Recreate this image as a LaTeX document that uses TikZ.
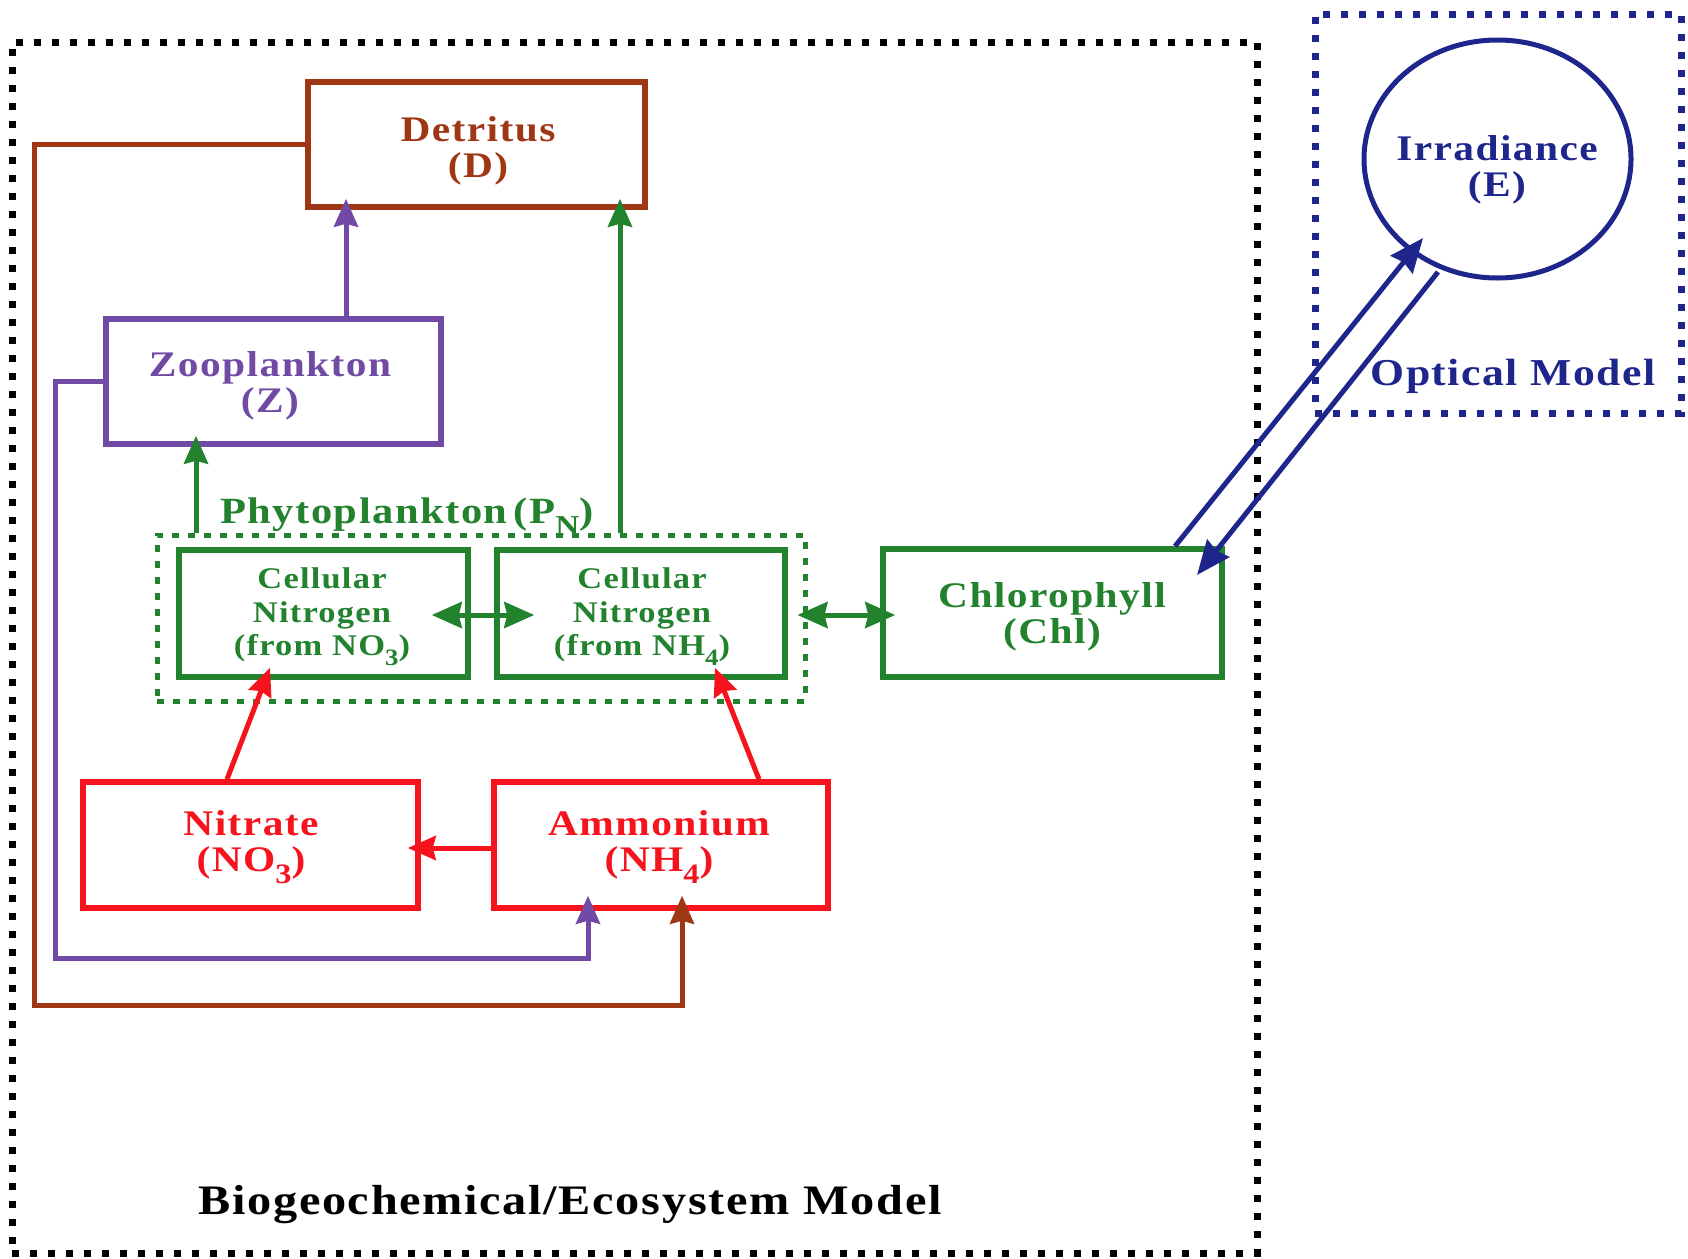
\documentclass[tikz,border=0pt]{standalone}
\usepackage{fontspec}
\setmainfont{Liberation Serif}[LetterSpace=4,FakeStretch=1.15]
\usepackage{graphicx}
\usetikzlibrary{arrows.meta,shapes.geometric}
\definecolor{cbrown}{RGB}{160,55,20}
\definecolor{cpurple}{RGB}{112,74,164}
\definecolor{cgreen}{RGB}{34,130,46}
\definecolor{cred}{RGB}{245,20,30}
\definecolor{cblue}{RGB}{30,38,140}
\newcommand\lsub[1]{\raisebox{-0.33em}{\scalebox{0.78}{#1}}}
\tikzset{
  box/.style={draw=#1, line width=5.5pt, inner sep=0pt, rectangle},
  lbl/.style={text=#1, font=\bfseries\fontsize{36}{36}\selectfont, align=center, inner sep=0pt},
  slbl/.style={text=#1, font=\bfseries\fontsize{30}{33.5}\selectfont, align=center, inner sep=0pt},
  arr/.style={draw=#1, line width=5pt, -{Stealth[inset=3pt,length=28pt,width=24pt]}},
  darr/.style={draw=#1, line width=5pt, {Stealth[inset=3pt,length=30pt,width=26pt]}-{Stealth[inset=3pt,length=30pt,width=26pt]}},
  barr/.style={draw=cblue, line width=5pt, -{Stealth[inset=3pt,length=34pt,width=28pt]}},
  frame/.style={draw=#1, line width=7pt, dash pattern=on 7pt off 11pt},
}
\begin{document}
\begin{tikzpicture}[x=1pt,y=-1pt]
\useasboundingbox (0,0) rectangle (1688,1258);
% frames
\node[frame=black, minimum width=1245pt, minimum height=1211pt, inner sep=0] (outer) at (634.5,647.5) {};
\node[frame=cblue, minimum width=366pt, minimum height=399pt, inner sep=0] (opt) at (1498,213.5) {};
\node[draw=cgreen, line width=5pt, dash pattern=on 7pt off 9pt, minimum width=648pt, minimum height=166pt, inner sep=0] (phy) at (481,618) {};
% boxes
\node[box=cbrown, minimum width=337pt, minimum height=125pt] (det) at (476.5,144.5) {};
\node[box=cpurple, minimum width=335pt, minimum height=125pt] (zoo) at (273.5,381.5) {};
\node[box=cgreen, minimum width=289pt, minimum height=127pt] (cno3) at (323.5,613.5) {};
\node[box=cgreen, minimum width=288pt, minimum height=127pt] (cnh4) at (641,613.5) {};
\node[box=cgreen, minimum width=339pt, minimum height=128pt] (chl) at (1052.5,613) {};
\node[box=cred, minimum width=335pt, minimum height=126pt] (nit) at (250.5,845) {};
\node[box=cred, minimum width=334pt, minimum height=126pt] (amm) at (661,845) {};
\node[draw=cblue, line width=5pt, ellipse, minimum width=267pt, minimum height=238pt, inner sep=0] (irr) at (1497.5,159) {};
% labels
\node[lbl=cbrown] (detl) at (478,151) {Detritus\\(D)};
\node[lbl=cpurple] (zool) at (270,386) {Zooplankton\\(Z)};
\node[slbl=cgreen] (cno3l) at (322,617) {Cellular\\Nitrogen\\(from NO\lsub{3})};
\node[slbl=cgreen] (cnh4l) at (642,617) {Cellular\\Nitrogen\\(from NH\lsub{4})};
\node[lbl=cgreen] (chll) at (1052,617) {Chlorophyll\\(Chl)};
\node[lbl=cred] (nitl) at (251,847) {Nitrate\\(NO\lsub{3})};
\node[lbl=cred] (amml) at (659,847) {Ammonium\\(NH\lsub{4})};
\node[lbl=cblue] (irrl) at (1497,169.5) {Irradiance\\(E)};
\node[lbl=cgreen, anchor=base west, font=\bfseries\fontsize{37}{37}\selectfont] (phyl) at (220,523) {Phytoplankton\,(P\lsub{N})};
\node[lbl=cblue, anchor=base, font=\bfseries\fontsize{38}{38}\selectfont] (optl) at (1513,385) {Optical Model};
\node[lbl=black, anchor=base, font=\bfseries\fontsize{42}{42}\selectfont] (bgl) at (570,1214) {Biogeochemical/Ecosystem Model};
% connectors
\draw[arr=cbrown, shorten >=-15pt] (det.west) -- ++(-271,0) -- ++(0,860.5) -| ([xshift=21pt]amm.south);
\draw[arr=cpurple, shorten >=-15pt] (zoo.west) -- ++(-48,0) -- ++(0,576.5) -| ([xshift=-73pt]amm.south);
\draw[arr=cpurple, shorten >=-11pt] ([xshift=72.5pt]zoo.north) -- ([xshift=-130.5pt]det.south);
\draw[arr=cgreen, shorten >=-11pt] ([xshift=139pt]phy.north) -- ([xshift=143.5pt]det.south);
\draw[arr=cgreen, shorten >=-11pt] ([xshift=-285pt]phy.north) -- ([xshift=-77.5pt]zoo.south);
\draw[darr=cgreen] ([xshift=-39pt,yshift=-1.5pt]cno3.east) -- ([xshift=40pt,yshift=-1.5pt]cnh4.west);
\draw[darr=cgreen] ([xshift=-10pt,yshift=3pt]phy.east) -- ([xshift=15pt,yshift=-2pt]chl.west);
\draw[arr=cred] ([xshift=-23.5pt]nit.north) -- ([xshift=-53.5pt,yshift=12pt]cno3.south);
\draw[arr=cred] ([xshift=98pt]amm.north) -- ([xshift=74pt,yshift=12pt]cnh4.south);
\draw[arr=cred] ([yshift=-3pt]amm.west) -- ([xshift=-13pt,yshift=-3pt]nit.east);
\coordinate (b1e) at (1423,238);
\coordinate (b2s) at (1438,272);
\coordinate (b2e) at (1197,575);
\draw[barr] ([xshift=122.5pt]chl.north) -- (b1e);
\draw[barr] (b2s) -- (b2e);
\end{tikzpicture}
\end{document}
